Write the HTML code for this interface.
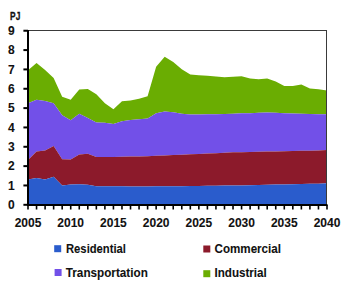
<!DOCTYPE html>
<html><head><meta charset="utf-8"><style>
html,body{margin:0;padding:0;background:#fff;width:349px;height:299px;overflow:hidden}
svg{display:block}
text{font-family:"Liberation Sans",sans-serif;font-weight:bold;font-size:12px;fill:#111;stroke:#111;stroke-width:0.08px}
.d{font-size:12px}
</style></head><body>
<svg width="349" height="299" viewBox="0 0 349 299">
<path d="M28.00,70.30 L36.54,62.96 L45.09,69.91 L53.63,78.02 L62.17,96.75 L70.71,99.84 L79.26,89.61 L87.80,89.03 L96.34,94.24 L104.89,103.32 L113.43,109.30 L121.97,101.19 L130.51,100.61 L139.06,98.68 L147.60,96.36 L156.14,66.82 L164.69,56.78 L173.23,61.99 L181.77,69.14 L190.31,74.54 L198.86,75.32 L207.40,75.70 L215.94,76.47 L224.49,77.25 L233.03,76.86 L241.57,76.28 L250.11,78.60 L258.66,79.37 L267.20,78.60 L275.74,81.50 L284.29,85.94 L292.83,85.94 L301.37,84.58 L309.91,88.45 L318.46,89.22 L327.00,90.57 L327.00,114.32 L318.46,114.13 L309.91,113.94 L301.37,113.74 L292.83,113.55 L284.29,113.16 L275.74,112.78 L267.20,112.58 L258.66,112.78 L250.11,113.16 L241.57,113.36 L233.03,113.74 L224.49,113.94 L215.94,114.13 L207.40,114.32 L198.86,114.52 L190.31,114.52 L181.77,113.74 L173.23,112.20 L164.69,111.62 L156.14,113.36 L147.60,118.57 L139.06,119.34 L130.51,119.92 L121.97,121.27 L113.43,123.98 L104.89,122.82 L96.34,122.43 L87.80,117.99 L79.26,113.74 L70.71,120.31 L62.17,115.29 L53.63,103.32 L45.09,101.00 L36.54,99.84 L28.00,103.32 Z" fill="#6aad02"/>
<path d="M28.00,103.32 L36.54,99.84 L45.09,101.00 L53.63,103.32 L62.17,115.29 L70.71,120.31 L79.26,113.74 L87.80,117.99 L96.34,122.43 L104.89,122.82 L113.43,123.98 L121.97,121.27 L130.51,119.92 L139.06,119.34 L147.60,118.57 L156.14,113.36 L164.69,111.62 L173.23,112.20 L181.77,113.74 L190.31,114.52 L198.86,114.52 L207.40,114.32 L215.94,114.13 L224.49,113.94 L233.03,113.74 L241.57,113.36 L250.11,113.16 L258.66,112.78 L267.20,112.58 L275.74,112.78 L284.29,113.16 L292.83,113.55 L301.37,113.74 L309.91,113.94 L318.46,114.13 L327.00,114.32 L327.00,150.05 L318.46,150.43 L309.91,150.63 L301.37,150.82 L292.83,151.01 L284.29,151.20 L275.74,151.40 L267.20,151.59 L258.66,151.78 L250.11,151.98 L241.57,152.17 L233.03,152.36 L224.49,152.75 L215.94,153.14 L207.40,153.52 L198.86,153.91 L190.31,154.29 L181.77,154.68 L173.23,155.07 L164.69,155.45 L156.14,155.84 L147.60,156.22 L139.06,156.42 L130.51,156.61 L121.97,156.80 L113.43,157.00 L104.89,157.00 L96.34,157.00 L87.80,153.71 L79.26,154.49 L70.71,159.51 L62.17,159.31 L53.63,145.99 L45.09,150.43 L36.54,151.59 L28.00,160.09 Z" fill="#7250e8"/>
<path d="M28.00,160.09 L36.54,151.59 L45.09,150.43 L53.63,145.99 L62.17,159.31 L70.71,159.51 L79.26,154.49 L87.80,153.71 L96.34,157.00 L104.89,157.00 L113.43,157.00 L121.97,156.80 L130.51,156.61 L139.06,156.42 L147.60,156.22 L156.14,155.84 L164.69,155.45 L173.23,155.07 L181.77,154.68 L190.31,154.29 L198.86,153.91 L207.40,153.52 L215.94,153.14 L224.49,152.75 L233.03,152.36 L241.57,152.17 L250.11,151.98 L258.66,151.78 L267.20,151.59 L275.74,151.40 L284.29,151.20 L292.83,151.01 L301.37,150.82 L309.91,150.63 L318.46,150.43 L327.00,150.05 L327.00,183.26 L318.46,183.65 L309.91,183.84 L301.37,184.03 L292.83,184.22 L284.29,184.42 L275.74,184.61 L267.20,184.80 L258.66,185.00 L250.11,185.19 L241.57,185.38 L233.03,185.38 L224.49,185.58 L215.94,185.77 L207.40,185.77 L198.86,185.96 L190.31,185.96 L181.77,186.16 L173.23,186.16 L164.69,186.35 L156.14,186.35 L147.60,186.54 L139.06,186.54 L130.51,186.54 L121.97,186.35 L113.43,186.35 L104.89,186.16 L96.34,186.16 L87.80,184.80 L79.26,184.22 L70.71,184.61 L62.17,185.58 L53.63,176.69 L45.09,179.40 L36.54,178.05 L28.00,179.40 Z" fill="#8c1a2b"/>
<path d="M28.00,179.40 L36.54,178.05 L45.09,179.40 L53.63,176.69 L62.17,185.58 L70.71,184.61 L79.26,184.22 L87.80,184.80 L96.34,186.16 L104.89,186.16 L113.43,186.35 L121.97,186.35 L130.51,186.54 L139.06,186.54 L147.60,186.54 L156.14,186.35 L164.69,186.35 L173.23,186.16 L181.77,186.16 L190.31,185.96 L198.86,185.96 L207.40,185.77 L215.94,185.77 L224.49,185.58 L233.03,185.38 L241.57,185.38 L250.11,185.19 L258.66,185.00 L267.20,184.80 L275.74,184.61 L284.29,184.42 L292.83,184.22 L301.37,184.03 L309.91,183.84 L318.46,183.65 L327.00,183.26 L327.00,205.00 L28.00,205.00 Z" fill="#2a5ccc"/>
<line x1="28" y1="30.5" x2="327" y2="30.5" stroke="#3a3a3a" stroke-width="1"/>
<line x1="326.5" y1="30.5" x2="326.5" y2="205" stroke="#3a3a3a" stroke-width="1"/>
<line x1="28" y1="30" x2="28" y2="206" stroke="#000" stroke-width="2"/>
<line x1="27" y1="205.1" x2="327.5" y2="205.1" stroke="#000" stroke-width="2"/>
<line x1="23.4" y1="204.80" x2="28" y2="204.80" stroke="#000" stroke-width="2"/>
<text x="14.8" y="209.00" text-anchor="end" class="d">0</text>
<line x1="23.4" y1="185.46" x2="28" y2="185.46" stroke="#000" stroke-width="2"/>
<text x="14.8" y="189.66" text-anchor="end" class="d">1</text>
<line x1="23.4" y1="166.12" x2="28" y2="166.12" stroke="#000" stroke-width="2"/>
<text x="14.8" y="170.32" text-anchor="end" class="d">2</text>
<line x1="23.4" y1="146.78" x2="28" y2="146.78" stroke="#000" stroke-width="2"/>
<text x="14.8" y="150.98" text-anchor="end" class="d">3</text>
<line x1="23.4" y1="127.44" x2="28" y2="127.44" stroke="#000" stroke-width="2"/>
<text x="14.8" y="131.64" text-anchor="end" class="d">4</text>
<line x1="23.4" y1="108.10" x2="28" y2="108.10" stroke="#000" stroke-width="2"/>
<text x="14.8" y="112.30" text-anchor="end" class="d">5</text>
<line x1="23.4" y1="88.76" x2="28" y2="88.76" stroke="#000" stroke-width="2"/>
<text x="14.8" y="92.96" text-anchor="end" class="d">6</text>
<line x1="23.4" y1="69.42" x2="28" y2="69.42" stroke="#000" stroke-width="2"/>
<text x="14.8" y="73.62" text-anchor="end" class="d">7</text>
<line x1="23.4" y1="50.08" x2="28" y2="50.08" stroke="#000" stroke-width="2"/>
<text x="14.8" y="54.28" text-anchor="end" class="d">8</text>
<line x1="23.4" y1="30.74" x2="28" y2="30.74" stroke="#000" stroke-width="2"/>
<text x="14.8" y="34.94" text-anchor="end" class="d">9</text>
<line x1="28.00" y1="205" x2="28.00" y2="209.5" stroke="#000" stroke-width="1.6"/>
<line x1="36.54" y1="205" x2="36.54" y2="209.5" stroke="#000" stroke-width="1.6"/>
<line x1="45.09" y1="205" x2="45.09" y2="209.5" stroke="#000" stroke-width="1.6"/>
<line x1="53.63" y1="205" x2="53.63" y2="209.5" stroke="#000" stroke-width="1.6"/>
<line x1="62.17" y1="205" x2="62.17" y2="209.5" stroke="#000" stroke-width="1.6"/>
<line x1="70.71" y1="205" x2="70.71" y2="209.5" stroke="#000" stroke-width="1.6"/>
<line x1="79.26" y1="205" x2="79.26" y2="209.5" stroke="#000" stroke-width="1.6"/>
<line x1="87.80" y1="205" x2="87.80" y2="209.5" stroke="#000" stroke-width="1.6"/>
<line x1="96.34" y1="205" x2="96.34" y2="209.5" stroke="#000" stroke-width="1.6"/>
<line x1="104.89" y1="205" x2="104.89" y2="209.5" stroke="#000" stroke-width="1.6"/>
<line x1="113.43" y1="205" x2="113.43" y2="209.5" stroke="#000" stroke-width="1.6"/>
<line x1="121.97" y1="205" x2="121.97" y2="209.5" stroke="#000" stroke-width="1.6"/>
<line x1="130.51" y1="205" x2="130.51" y2="209.5" stroke="#000" stroke-width="1.6"/>
<line x1="139.06" y1="205" x2="139.06" y2="209.5" stroke="#000" stroke-width="1.6"/>
<line x1="147.60" y1="205" x2="147.60" y2="209.5" stroke="#000" stroke-width="1.6"/>
<line x1="156.14" y1="205" x2="156.14" y2="209.5" stroke="#000" stroke-width="1.6"/>
<line x1="164.69" y1="205" x2="164.69" y2="209.5" stroke="#000" stroke-width="1.6"/>
<line x1="173.23" y1="205" x2="173.23" y2="209.5" stroke="#000" stroke-width="1.6"/>
<line x1="181.77" y1="205" x2="181.77" y2="209.5" stroke="#000" stroke-width="1.6"/>
<line x1="190.31" y1="205" x2="190.31" y2="209.5" stroke="#000" stroke-width="1.6"/>
<line x1="198.86" y1="205" x2="198.86" y2="209.5" stroke="#000" stroke-width="1.6"/>
<line x1="207.40" y1="205" x2="207.40" y2="209.5" stroke="#000" stroke-width="1.6"/>
<line x1="215.94" y1="205" x2="215.94" y2="209.5" stroke="#000" stroke-width="1.6"/>
<line x1="224.49" y1="205" x2="224.49" y2="209.5" stroke="#000" stroke-width="1.6"/>
<line x1="233.03" y1="205" x2="233.03" y2="209.5" stroke="#000" stroke-width="1.6"/>
<line x1="241.57" y1="205" x2="241.57" y2="209.5" stroke="#000" stroke-width="1.6"/>
<line x1="250.11" y1="205" x2="250.11" y2="209.5" stroke="#000" stroke-width="1.6"/>
<line x1="258.66" y1="205" x2="258.66" y2="209.5" stroke="#000" stroke-width="1.6"/>
<line x1="267.20" y1="205" x2="267.20" y2="209.5" stroke="#000" stroke-width="1.6"/>
<line x1="275.74" y1="205" x2="275.74" y2="209.5" stroke="#000" stroke-width="1.6"/>
<line x1="284.29" y1="205" x2="284.29" y2="209.5" stroke="#000" stroke-width="1.6"/>
<line x1="292.83" y1="205" x2="292.83" y2="209.5" stroke="#000" stroke-width="1.6"/>
<line x1="301.37" y1="205" x2="301.37" y2="209.5" stroke="#000" stroke-width="1.6"/>
<line x1="309.91" y1="205" x2="309.91" y2="209.5" stroke="#000" stroke-width="1.6"/>
<line x1="318.46" y1="205" x2="318.46" y2="209.5" stroke="#000" stroke-width="1.6"/>
<line x1="327.00" y1="205" x2="327.00" y2="209.5" stroke="#000" stroke-width="1.6"/>
<text x="28.00" y="227" text-anchor="middle" class="d">2005</text>
<text x="70.71" y="227" text-anchor="middle" class="d">2010</text>
<text x="113.43" y="227" text-anchor="middle" class="d">2015</text>
<text x="156.14" y="227" text-anchor="middle" class="d">2020</text>
<text x="198.86" y="227" text-anchor="middle" class="d">2025</text>
<text x="241.57" y="227" text-anchor="middle" class="d">2030</text>
<text x="284.29" y="227" text-anchor="middle" class="d">2035</text>
<text x="327.00" y="227" text-anchor="middle" class="d">2040</text>
<text x="10.1" y="19.9" style="font-size:10.8px;stroke-width:0.3px" textLength="10.2" lengthAdjust="spacingAndGlyphs">PJ</text>
<rect x="54.2" y="245.2" width="7" height="7" fill="#2a5ccc"/>
<text x="66" y="253" textLength="60" lengthAdjust="spacingAndGlyphs">Residential</text>
<rect x="203.3" y="245.5" width="7" height="7" fill="#8c1a2b"/>
<text x="214.5" y="253" textLength="66.5" lengthAdjust="spacingAndGlyphs">Commercial</text>
<rect x="54.6" y="269" width="7" height="7" fill="#7250e8"/>
<text x="65.8" y="277" textLength="82" lengthAdjust="spacingAndGlyphs">Transportation</text>
<rect x="203.3" y="270.2" width="7" height="7" fill="#6aad02"/>
<text x="214.5" y="277.3" textLength="52.3" lengthAdjust="spacingAndGlyphs">Industrial</text>
</svg>
</body></html>
